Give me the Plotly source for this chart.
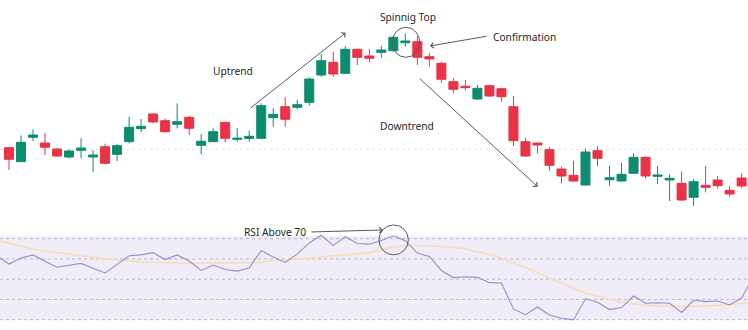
import plotly.graph_objects as go

# ---- data ----
candle_idx = list(range(62))
open_ = [102.3, 88.3, 112.7, 107, 101, 93, 99.7, 93, 103.3, 95.7, 108.3, 121.3, 136, 129.3, 125.7, 132.7,
         104.7, 108.3, 127.7, 110.7, 111.5, 111.7, 132.3, 143.3, 142.7, 147.7, 175, 187.7, 176.7, 200.7,
         194, 197.7, 199.3, 207.3, 208.3, 193.3, 186.7, 168.3, 163.7, 151, 164.3, 161.3, 143.3, 108.3,
         107, 100.3, 81, 74.7, 65, 99.3, 70.3, 69, 76.7, 92.7, 73.7, 70, 66.7, 52.7, 64.7, 70, 59.7, 72]
close = [90.7, 107.7, 115, 102.7, 94, 99, 102, 95, 86.7, 104.3, 122.7, 123.7, 128, 118.3, 128.3, 121.7,
         108.7, 118.3, 111.7, 111.7, 113.7, 144.3, 135.7, 130.7, 145.3, 171, 189.3, 176, 200.7, 192.7,
         191.7, 200, 212.7, 209, 192.7, 191, 170.7, 160.7, 162.3, 161.7, 154, 153.3, 109.3, 94, 105,
         84.7, 74, 69, 98, 91.7, 72.3, 75.7, 92.7, 74, 75, 71.7, 50, 68.3, 62.7, 64.3, 56, 64]
high = [103.3, 114.5, 120.7, 117, 102.3, 100.7, 111.7, 99.7, 106.3, 106.3, 133.3, 131, 136.7, 131.7, 146.7,
        134.3, 116, 121.7, 128.3, 121.7, 119.5, 146.7, 141.7, 152.7, 150, 172.7, 195.7, 198.3, 204, 201.3,
        200.7, 204.3, 214, 216.7, 214, 196.7, 188.3, 171.7, 170, 165, 165.3, 162.3, 154, 112.3, 107.3,
        102.7, 83.3, 89.3, 101.3, 104, 84.3, 87.3, 96.7, 93.3, 84, 75.7, 78.3, 70.7, 84, 74, 64, 76.7]
low = [80, 88, 109, 95, 93.3, 91.7, 91.7, 77.7, 85.5, 89, 106.7, 117.7, 127, 117.3, 121.7, 115, 95.7, 108,
       107.7, 108.3, 108.3, 110.7, 123.3, 123.3, 140.7, 144.3, 173.3, 173.3, 176, 185, 187.7, 192.3, 198.3,
       203.3, 185, 183.3, 167.3, 157.3, 159.3, 150, 153.3, 148.3, 104, 93.3, 96.7, 79.3, 66.7, 68.3, 64.3,
       84, 64.3, 68.3, 76, 71.7, 66, 49, 49, 44, 57.7, 61.7, 53.3, 61.7]

rsi_x = list(range(-1, 63))
rsi = [61.5, 57.5, 60.4, 62.0, 58.9, 55.9, 56.9, 57.8, 55.4, 53.1, 57.3, 61.6, 62.0, 63.1, 59.7, 62.0,
       59.0, 54.3, 57.0, 54.8, 54.0, 55.5, 64.2, 60.9, 58.3, 62.4, 67.9, 71.7, 66.6, 71.0, 67.6, 67.3,
       69.1, 71.4, 69.0, 62.9, 61.2, 54.3, 50.8, 51.2, 50.9, 48.3, 48.1, 35.3, 32.5, 36.3, 32.3, 30.7,
       29.9, 40.3, 38.6, 35.0, 36.0, 41.7, 38.1, 38.4, 38.1, 33.6, 39.6, 38.9, 39.2, 37.3, 40.7, 51.6]
rsi_ma = [69.4, 67.9, 66.1, 64.8, 63.9, 63.1, 62.3, 61.6, 60.8, 60.1, 59.5, 58.9, 58.5, 58.3, 58.1, 58.0,
          57.9, 57.9, 57.9, 57.9, 57.9, 58.2, 58.5, 59.0, 59.5, 60.1, 60.6, 61.0, 61.5, 62.0, 62.5, 63.0,
          64.4, 65.9, 66.5, 66.5, 66.5, 66.1, 65.8, 64.9, 63.7, 62.2, 60.5, 58.2, 56.0, 53.4, 50.6, 47.9,
          45.7, 43.2, 41.5, 40.0, 38.6, 37.8, 37.1, 36.8, 36.6, 36.5, 36.5, 36.8, 37.0, 37.4, 38.0, 38.7]
rsi_levels = [70, 60, 50, 40, 30]
price_ref_level = 100.7

GREEN = "#0d8d70"
RED = "#ea3347"
FONT = "Noto Sans"
TXT = "#1f1f1f"
ARROW = "#5a5a5a"

fig = go.Figure()
fig.add_trace(go.Candlestick(
    x=candle_idx, open=open_, high=high, low=low, close=close,
    increasing=dict(line=dict(color=GREEN, width=1), fillcolor=GREEN),
    decreasing=dict(line=dict(color=RED, width=1), fillcolor=RED),
    whiskerwidth=0, xaxis="x", yaxis="y", showlegend=False, hoverinfo="skip"))

fig.add_trace(go.Scatter(x=rsi_x, y=rsi_ma, mode="lines",
                         line=dict(color="#f6dfb4", width=1.6), xaxis="x2", yaxis="y2",
                         showlegend=False, hoverinfo="skip"))
fig.add_trace(go.Scatter(x=rsi_x, y=rsi, mode="lines",
                         line=dict(color="#958dcb", width=1.1), xaxis="x2", yaxis="y2",
                         showlegend=False, hoverinfo="skip"))

xr = [-0.75, 61.53]
shapes = [
    dict(type="rect", xref="x2", yref="y2", x0=xr[0], x1=xr[1], y0=30, y1=71.5,
         fillcolor="#f0edf8", line=dict(width=0), layer="below"),
    dict(type="line", xref="x", yref="y", x0=xr[0], x1=xr[1], y0=price_ref_level, y1=price_ref_level,
         line=dict(color="#e6e6e6", width=1, dash="dot"), layer="below"),
    dict(type="circle", xref="x", yref="y", x0=31.9, x1=34.2, y0=192.7, y1=222.7,
         line=dict(color="#5a5a5a", width=1)),
    dict(type="circle", xref="x2", yref="y2", x0=30.8, x1=33.25, y0=62.0, y1=76.8,
         line=dict(color="#5a5a5a", width=1)),
]
for lv in rsi_levels:
    shapes.append(dict(type="line", xref="x2", yref="y2", x0=xr[0], x1=xr[1], y0=lv, y1=lv,
                       line=dict(color="#b8b8bf", width=1, dash="dot"), layer="below"))

def txt(x, y, t, xref="x", yref="y", anchor="center"):
    return dict(x=x, y=y, xref=xref, yref=yref, text=t, showarrow=False, xanchor=anchor,
                yanchor="middle", font=dict(family=FONT, size=10.2, color=TXT))

def arr(x, y, ax, ay, xref="x", yref="y"):
    return dict(x=x, y=y, ax=ax, ay=ay, xref=xref, yref=yref, axref=xref, ayref=yref, text="",
                showarrow=True, arrowhead=4, arrowsize=1.1, arrowwidth=1, arrowcolor=ARROW)

annotations = [
    txt(33.2, 233, "Spinnig Top"),
    txt(18.65, 179, "Uptrend"),
    txt(33.14, 124, "Downtrend"),
    txt(40.13, 213, "Confirmation", anchor="left"),
    txt(24.9, 73.5, "RSI Above 70", xref="x2", yref="y2", anchor="right"),
    arr(35.05, 204, 39.88, 214),
    arr(28.04, 217.3, 19.98, 140.7),
    arr(44.02, 63.3, 34.08, 172.7),
    arr(31.14, 74.3, 25.06, 73.3, xref="x2", yref="y2"),
]

fig.update_layout(
    width=748, height=330, margin=dict(l=0, r=0, t=0, b=0),
    paper_bgcolor="white", plot_bgcolor="white",
    boxgap=0.25, boxgroupgap=0,
    xaxis=dict(domain=[0, 1], range=xr, visible=False, rangeslider=dict(visible=False), anchor="y"),
    yaxis=dict(domain=[1/3, 1], range=[30, 250], visible=False, anchor="x"),
    xaxis2=dict(domain=[0, 1], range=xr, visible=False, anchor="y2"),
    yaxis2=dict(domain=[0, 1/3], range=[24.91, 79.23], visible=False, anchor="x2"),
    shapes=shapes, annotations=annotations,
)

fig.write_html("out.html")
